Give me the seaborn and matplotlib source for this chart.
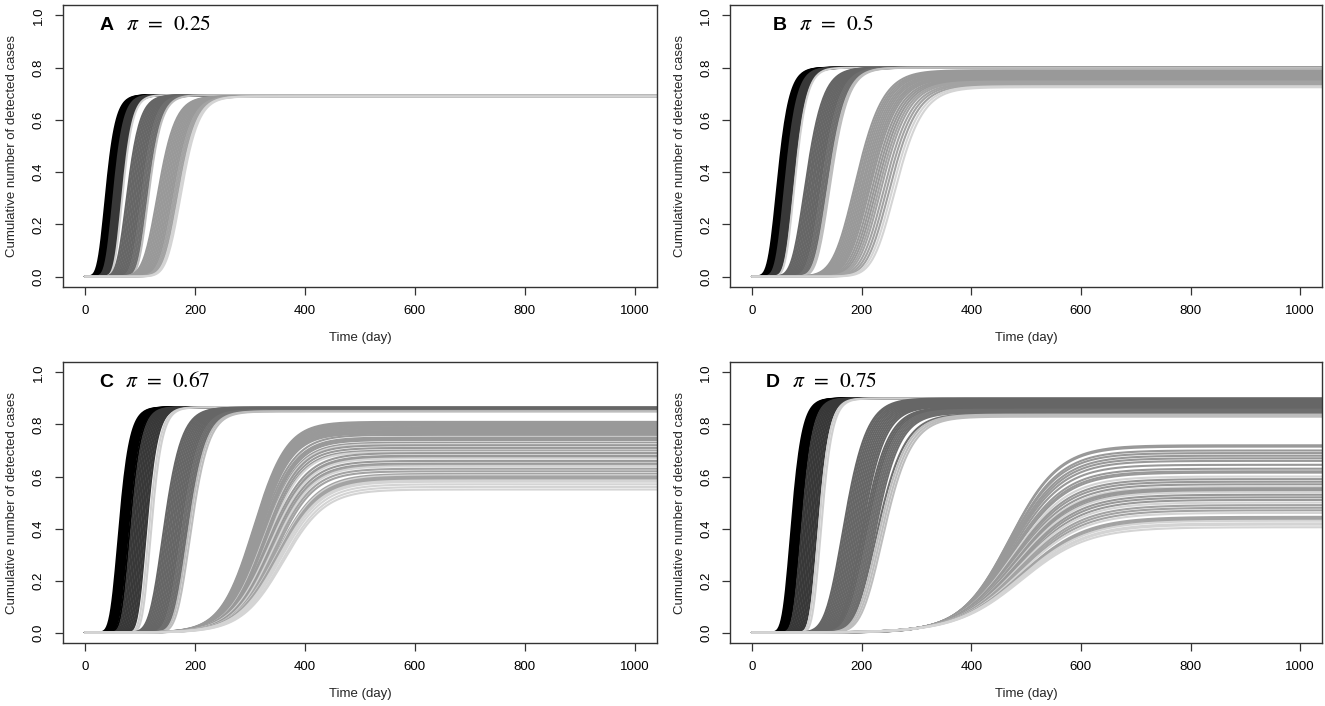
import numpy as np
import pandas as pd
import seaborn as sns
import matplotlib
matplotlib.use('Agg')
import matplotlib.pyplot as plt
from matplotlib.transforms import offset_copy

# curve parameters: half-rise day, plateau, width (days), shape
# three groups per panel (black, dark gray, light gray)
mid_a = [[40, 42, 44, 46, 48, 50, 52, 54, 56, 58, 60, 62, 64, 66, 68, 70],
         [79, 82, 85, 88, 91, 94, 97, 100, 103, 106, 109, 112, 115, 118],
         [135, 138, 141, 144, 147, 150, 153, 156, 159, 162, 165, 168, 171, 174, 177]]
top_a = [0.695, 0.695, 0.69]
width_a = [11, 14, 18]
shape_a = [0.2, 0.2, 0.4]

mid_b = [[49, 51, 53, 55, 57, 59, 61, 63, 65, 67, 69, 71, 73, 75, 77, 80],
         [101, 104, 107, 110, 113, 116, 119, 122, 125, 128, 131, 134, 137, 140, 143, 146],
         [193, 196, 199, 202, 205, 208, 211, 214, 217, 220, 224, 228, 232, 236, 240,
          245, 250, 255, 260, 265]]
top_b = [0.80, 0.80,
         [0.790, 0.786, 0.783, 0.780, 0.776, 0.773, 0.770, 0.766, 0.763, 0.760,
          0.756, 0.753, 0.750, 0.747, 0.744, 0.740, 0.737, 0.733, 0.729, 0.725]]
width_b = [13, 19, 28]
shape_b = [0.2, 0.2, 0.4]

mid_c = [[64, 66, 68, 70, 72, 74, 76, 78, 80, 83, 86, 89, 92, 95, 98, 101, 104, 107,
          110, 113, 118, 122],
         [146, 149, 152, 155, 158, 161, 164, 167, 170, 173, 176, 179, 182, 185, 188, 191, 195],
         [307, 308, 309, 310, 311, 312, 313, 314, 315, 316, 317, 319, 320, 322, 324,
          325, 326, 328, 330, 331, 332, 334, 335, 336, 338, 340, 341, 342, 344, 346,
          348, 349, 350, 351, 352, 353, 354, 356, 359, 361]]
top_c = [0.866,
         [0.865, 0.865, 0.864, 0.863, 0.862, 0.861, 0.860, 0.859, 0.858, 0.857,
          0.856, 0.855, 0.854, 0.853, 0.852, 0.851, 0.850],
         [0.81, 0.805, 0.80, 0.795, 0.79, 0.785, 0.78, 0.775, 0.77, 0.765,
          0.76, 0.75, 0.745, 0.74, 0.73, 0.725, 0.72, 0.71, 0.70, 0.695,
          0.69, 0.68, 0.675, 0.67, 0.66, 0.65, 0.645, 0.64, 0.63, 0.62,
          0.61, 0.605, 0.60, 0.595, 0.59, 0.585, 0.58, 0.57, 0.56, 0.55]]
width_c = [12, 19,
           [30, 30, 30, 30, 30, 30, 30, 30, 30, 30, 32, 32, 32, 32, 32, 32, 32, 32, 32, 32,
            35, 35, 35, 35, 35, 35, 35, 35, 35, 35, 38, 38, 38, 38, 38, 38, 38, 38, 38, 38]]
shape_c = [0.2, 0.25, 1.0]

mid_d = [[74, 76, 78, 80, 82, 84, 86, 88, 90, 93, 96, 99, 102, 105, 108, 111, 114, 117,
          120, 124, 128],
         [171, 174, 177, 180, 183, 186, 189, 192, 195, 198, 201, 204, 207, 210, 213,
          216, 219, 222, 225, 228, 232, 236, 240, 244],
         [470, 470, 471, 471, 472, 473, 473, 474, 475, 476, 476, 477, 478, 479, 480,
          481, 481, 482, 483, 484, 484, 485, 486, 486, 487, 488, 488, 489, 490, 490,
          491, 491, 492, 492, 492]]
top_d = [0.90,
         [0.900, 0.898, 0.895, 0.893, 0.890, 0.887, 0.884, 0.881, 0.878, 0.875, 0.872, 0.869,
          0.866, 0.863, 0.860, 0.857, 0.854, 0.851, 0.848, 0.845, 0.841, 0.838, 0.834, 0.830],
         [0.72, 0.715, 0.70, 0.69, 0.68, 0.67, 0.66, 0.645, 0.63, 0.62, 0.615, 0.60,
          0.59, 0.58, 0.57, 0.56, 0.555, 0.55, 0.545, 0.54, 0.53, 0.52, 0.51, 0.50,
          0.49, 0.48, 0.47, 0.46, 0.445, 0.44, 0.435, 0.43, 0.42, 0.415, 0.405]]
width_d = [12,
           [24, 24, 24, 24, 24, 24, 24, 24, 24, 24, 24, 24, 26, 26, 26, 26, 26, 26, 26, 26,
            29, 29, 29, 29],
           [45, 45, 46, 46, 47, 47, 48, 48, 49, 49, 50, 50, 51, 51, 52, 52, 53, 53, 54, 54,
            55, 55, 56, 56, 57, 57, 58, 58, 59, 59, 60, 60, 60, 60, 60]]
shape_d = [0.2, 0.3, 1.0]

panel_letters = ['A', 'B', 'C', 'D']
panel_pi = ['0.25', '0.5', '0.67', '0.75']
x_ticks = [0, 200, 400, 600, 800, 1000]
y_ticks = [0.0, 0.2, 0.4, 0.6, 0.8, 1.0]

days = np.arange(0, 1041, 2)

# shades per group: main, second, light edge
shades = [['#000000', '#383838', '#cfcfcf'],
          ['#666666', '#6e6e6e', '#bdbdbd'],
          ['#999999', '#a3a3a3', '#d4d4d4']]
splits = [[0.42, 0.90], [0.62, 0.86], [0.65, 0.86]]


def as_list(v, n):
    return list(v) if isinstance(v, list) else [v] * n


def richards(t, half, top, width, nu):
    # generalised logistic, parameterised so that `half` is the half-rise day
    x_half = -np.log((2 ** nu - 1) / nu)
    t0 = half - width * x_half
    return top * (1 + nu * np.exp(-(t - t0) / width)) ** (-1 / nu)


def build(mids, tops, widths, shapes):
    frames = []
    colors = {}
    order = []
    for g in range(3):
        n = len(mids[g])
        tp = as_list(tops[g], n)
        wd = as_list(widths[g], n)
        for i in range(n):
            key = '%d-%02d' % (g, i)
            val = richards(days, mids[g][i], tp[i], wd[i], shapes[g])
            frames.append(pd.DataFrame({'time': days, 'value': val, 'curve': key}))
            f = i / n
            if f < splits[g][0]:
                c = shades[g][0]
            elif f < splits[g][1]:
                c = shades[g][1]
            else:
                c = shades[g][2]
            if g == 2 and n > 30 and i % 4 == 3 and f > 0.3:
                c = shades[g][2]
            colors[key] = c
            order.append(key)
    return pd.concat(frames, ignore_index=True), colors, order


sns.set_theme(style='ticks')
plt.rcParams['font.family'] = ['Liberation Sans', 'DejaVu Sans']
plt.rcParams['mathtext.fontset'] = 'stix'

fig = plt.figure(figsize=(13.25, 7.06), dpi=100)
boxes = [[0.0475, 0.5935, 0.4483, 0.3994],
         [0.551, 0.5935, 0.4468, 0.3994],
         [0.0475, 0.0892, 0.4483, 0.398],
         [0.551, 0.0892, 0.4468, 0.398]]
params = [(mid_a, top_a, width_a, shape_a), (mid_b, top_b, width_b, shape_b),
          (mid_c, top_c, width_c, shape_c), (mid_d, top_d, width_d, shape_d)]
label_x = [27, 38, 26, 25]

for k in range(4):
    ax = fig.add_axes(boxes[k])
    df, colors, order = build(*params[k])
    sns.lineplot(data=df, x='time', y='value', hue='curve', hue_order=order,
                 palette=colors, estimator=None, sort=False, legend=False,
                 linewidth=1.5, ax=ax)
    ax.set_xlim(-40, 1040)
    ax.set_ylim(-0.04, 1.04)
    ax.set_xticks(x_ticks)
    ax.set_xticklabels([str(t) for t in x_ticks])
    ax.set_yticks(y_ticks)
    ax.set_yticklabels(['%.1f' % t for t in y_ticks])
    ax.tick_params(axis='both', length=6, width=0.9, color='#333333',
                   labelsize=9.5, labelcolor='black', pad=7)
    ax.tick_params(axis='y', labelrotation=90)
    for lab in ax.get_yticklabels():
        lab.set_va('center')
    for sp in ax.spines.values():
        sp.set_visible(True)
        sp.set_color('#333333')
        sp.set_linewidth(1.0)
    ax.set_xlabel('Time (day)', fontsize=9.5)
    ax.set_ylabel('Cumulative number of detected cases', fontsize=9.5)
    ax.xaxis.set_label_coords(0.5, -0.16)
    ax.yaxis.set_label_coords(-0.075, 0.5)
    ty = 0.963
    ax.text(label_x[k], ty, panel_letters[k], fontsize=14, fontweight='bold',
            ha='left', va='center', color='black')
    tr = offset_copy(ax.transData, fig=fig, x=26, y=0, units='dots')
    ax.text(label_x[k], ty, r'$\pi$  =  ' + panel_pi[k], fontsize=15.5,
            family='STIXGeneral', ha='left', va='center', transform=tr, color='black')

fig.savefig('out.png', dpi=100)
